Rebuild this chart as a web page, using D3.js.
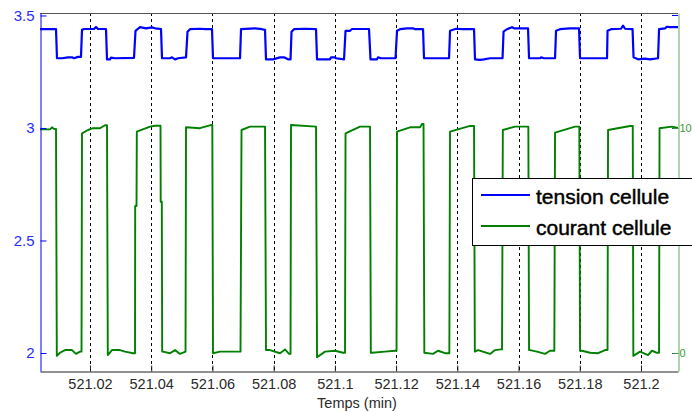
<!DOCTYPE html>
<html>
<head>
<meta charset="utf-8">
<script src="https://cdn.jsdelivr.net/npm/d3@7"></script>
<style>
  html, body { margin: 0; padding: 0; background: #fff; }
  svg { display: block; font-family: "Liberation Sans", Arial, sans-serif; }
</style>
</head>
<body>
<svg id="chart" width="692" height="412"></svg>
<script>
// ---- data (time in minutes) ----
const seriesNames = ["tension cellule", "courant cellule"];
const xTickValues = [521.02, 521.04, 521.06, 521.08, 521.1, 521.12, 521.14, 521.16, 521.18, 521.2];
const xTickLabels = ["521.02", "521.04", "521.06", "521.08", "521.1", "521.12", "521.14", "521.16", "521.18", "521.2"];
const yLeftTicks = [2, 2.5, 3, 3.5];
const yLeftLabels = ["2", "2.5", "3", "3.5"];
const yRightTicks = [0, 10];
const yRightLabels = ["0", "10"];
const xLabel = "Temps (min)";

const tensionT = [
  521.00367, 521.00694, 521.00890,
  521.00922, 521.01086, 521.01282, 521.01412, 521.01478, 521.01608, 521.01706,
  521.01739, 521.01804, 521.02131, 521.02196, 521.02262, 521.02523,
  521.02556, 521.02654, 521.02687, 521.02817, 521.03438,
  521.03487, 521.03634, 521.03830, 521.04026, 521.04124, 521.04320,
  521.04353, 521.04614, 521.04679, 521.04777, 521.04875, 521.05137,
  521.05186, 521.05267, 521.05594, 521.05757, 521.05986,
  521.06019, 521.06411, 521.06901,
  521.06934, 521.07391, 521.07620, 521.07718,
  521.07750, 521.07979, 521.08208, 521.08339, 521.08469, 521.08551,
  521.08584, 521.08665, 521.09025, 521.09384,
  521.09417, 521.09841, 521.09874, 521.10005, 521.10037, 521.10299,
  521.10348, 521.10495, 521.10560, 521.11115,
  521.11164, 521.11377, 521.11410, 521.11508, 521.11802, 521.11981,
  521.12030, 521.12128, 521.12357, 521.12553, 521.12618, 521.12880,
  521.12912, 521.13729,
  521.13762, 521.13958, 521.14154, 521.14546,
  521.14578, 521.14742, 521.14872, 521.15069, 521.15477,
  521.15510, 521.15624, 521.15787, 521.15853, 521.16310,
  521.16343, 521.16702, 521.16735, 521.16833, 521.17192,
  521.17225, 521.17355, 521.17682, 521.17976,
  521.18009, 521.18891,
  521.18907, 521.19022, 521.19348, 521.19414, 521.19479, 521.19724,
  521.19757, 521.19904, 521.20132, 521.20296, 521.20557,
  521.20590, 521.20786, 521.20851, 521.20949, 521.21209
];
const tensionV = [
  3.439, 3.439, 3.439,
  3.310, 3.310, 3.314, 3.314, 3.310, 3.316, 3.316,
  3.436, 3.440, 3.440, 3.449, 3.440, 3.440,
  3.305, 3.305, 3.313, 3.310, 3.312,
  3.432, 3.448, 3.443, 3.447, 3.443, 3.440,
  3.310, 3.310, 3.314, 3.305, 3.310, 3.314,
  3.428, 3.439, 3.441, 3.439, 3.439,
  3.310, 3.310, 3.310,
  3.439, 3.443, 3.439, 3.436,
  3.305, 3.305, 3.314, 3.314, 3.305, 3.305,
  3.428, 3.439, 3.441, 3.439,
  3.305, 3.305, 3.314, 3.314, 3.310, 3.305,
  3.432, 3.432, 3.440, 3.440,
  3.305, 3.305, 3.314, 3.310, 3.310, 3.310,
  3.432, 3.439, 3.443, 3.443, 3.439, 3.439,
  3.310, 3.310,
  3.432, 3.441, 3.439, 3.439,
  3.305, 3.303, 3.305, 3.310, 3.310,
  3.428, 3.439, 3.448, 3.443, 3.443,
  3.310, 3.310, 3.314, 3.310, 3.310,
  3.432, 3.439, 3.443, 3.443,
  3.310, 3.310,
  3.432, 3.439, 3.441, 3.455, 3.441, 3.439,
  3.314, 3.305, 3.308, 3.305, 3.310,
  3.439, 3.443, 3.450, 3.448, 3.448
];

const courantT = [
  521.00367, 521.00694, 521.00759, 521.00824, 521.00890,
  521.00916, 521.01020, 521.01184, 521.01412, 521.01543, 521.01674, 521.01723,
  521.01739, 521.01935, 521.02099, 521.02327, 521.02491, 521.02556,
  521.02582, 521.02719, 521.02981, 521.03144, 521.03405, 521.03471,
  521.03477, 521.03520, 521.03530, 521.03961, 521.04124, 521.04304,
  521.04310, 521.04346, 521.04359, 521.04385, 521.04614, 521.04777, 521.04941, 521.05121,
  521.05137, 521.05594, 521.05944, 521.05996,
  521.06019, 521.06248, 521.06574, 521.06917,
  521.06950, 521.07228, 521.07718,
  521.07750, 521.07881, 521.08208, 521.08371, 521.08502, 521.08551,
  521.08567, 521.09384,
  521.09417, 521.09678, 521.10005, 521.10266, 521.10331,
  521.10348, 521.10821, 521.11148,
  521.11174, 521.11213, 521.11638, 521.11965, 521.12014,
  521.12030, 521.12455, 521.12782, 521.12847, 521.12896,
  521.12922, 521.13206, 521.13370, 521.13598, 521.13739,
  521.13762, 521.14415, 521.14546,
  521.14572, 521.14677, 521.15069, 521.15232, 521.15428, 521.15461,
  521.15487, 521.15885, 521.16320,
  521.16343, 521.16375, 521.16604, 521.16865, 521.17029, 521.17169,
  521.17192, 521.17846, 521.17986,
  521.18009, 521.18074, 521.18336, 521.18597, 521.18826, 521.18907,
  521.18924, 521.19642, 521.19731,
  521.19750, 521.19969, 521.20230, 521.20361, 521.20524, 521.20590,
  521.20606, 521.21005, 521.21209
];
const courantV = [
  9.94, 9.94, 10.03, 9.96, 9.96,
  -0.13, 0.01, 0.13, 0.13, -0.04, 0.06, 0.06,
  9.76, 9.91, 9.99, 9.99, 10.12, 10.12,
  -0.09, 0.13, 0.13, 0.06, -0.01, -0.01,
  6.53, 6.53, 9.84, 10.06, 10.10, 10.10,
  6.72, 6.72, 0.06, 0.06, -0.01, 0.13, -0.04, 0.06,
  10.03, 9.99, 10.13, 10.13,
  -0.01, 0.06, 0.06, 0.06,
  9.91, 10.06, 10.06,
  0.13, 0.13, -0.01, 0.16, -0.04, -0.04,
  10.13, 10.06,
  -0.19, 0.06, 0.10, 0.01, 0.01,
  9.76, 10.06, 10.06,
  0.01, 0.01, 0.06, 0.10, 0.10,
  9.84, 10.03, 10.03, 10.18, 10.18,
  0.01, -0.04, 0.10, -0.01, -0.01,
  9.84, 10.09, 10.09,
  0.06, 0.13, -0.04, 0.13, 0.16, 0.16,
  9.91, 10.06, 10.06,
  0.13, 0.13, 0.06, -0.04, 0.10, 0.10,
  9.79, 10.06, 10.06,
  0.10, 0.10, 0.01, -0.01, 0.13, 0.13,
  9.91, 10.09, 10.09,
  -0.13, 0.06, -0.09, 0.10, 0.01, 0.01,
  9.99, 10.06, 10.00
];

// ---- layout ----
const svg = d3.select("#chart");
const L = 40, R = 678, T = 13, B = 371;
const x = d3.scaleLinear().domain([521.00367, 521.21209]).range([L, R]);
const yL = d3.scaleLinear().domain([1.92, 3.511]).range([B, T]);
const yR = d3.scaleLinear().domain([-0.8, 15.11]).range([B, T]);
const BLUE = "#0000ff", GREEN = "#008000";
const font = '"Liberation Sans", Arial, sans-serif';

// grid (dashed)
svg.append("g").selectAll("line").data(xTickValues).join("line")
  .attr("x1", d => Math.round(x(d)) + 0.5).attr("x2", d => Math.round(x(d)) + 0.5)
  .attr("y1", T).attr("y2", B)
  .attr("stroke", "#000").attr("stroke-width", 1).attr("stroke-dasharray", "3,3");

// lines
const tensionData = tensionT.map((t, i) => [t, tensionV[i]]);
const courantData = courantT.map((t, i) => [t, courantV[i]]);
svg.append("path").datum(tensionData)
  .attr("fill", "none").attr("stroke", BLUE).attr("stroke-width", 2.2).attr("stroke-linejoin", "round")
  .attr("d", d3.line().x(d => x(d[0])).y(d => yL(d[1])));
svg.append("path").datum(courantData)
  .attr("fill", "none").attr("stroke", GREEN).attr("stroke-width", 1.9).attr("stroke-linejoin", "round")
  .attr("d", d3.line().x(d => x(d[0])).y(d => yR(d[1])));

// top border
svg.append("line").attr("x1", L).attr("x2", R).attr("y1", T + 0.5).attr("y2", T + 0.5)
  .attr("stroke", "#555");

// bottom axis
const gx = svg.append("g").attr("transform", `translate(0,${B + 0.5})`)
  .call(d3.axisBottom(x).tickValues(xTickValues).tickFormat((d, i) => xTickLabels[i])
    .tickSize(-6).tickSizeOuter(0).tickPadding(7));
gx.select(".domain").attr("stroke", "#222");
gx.selectAll(".tick line").attr("stroke", "#222");
gx.selectAll(".tick text").attr("fill", "#2a2a2a").style("font-size", "14.5px").style("font-family", font);

// left axis
const gl = svg.append("g").attr("transform", `translate(${L + 0.5},0)`)
  .call(d3.axisLeft(yL).tickValues(yLeftTicks).tickFormat((d, i) => yLeftLabels[i])
    .tickSize(-6).tickSizeOuter(0).tickPadding(6));
gl.select(".domain").attr("stroke", BLUE);
gl.selectAll(".tick line").attr("stroke", BLUE);
gl.selectAll(".tick text").attr("fill", "#2a2aff").style("font-size", "15px").style("font-family", font);

// mirrored left ticks on right side
svg.append("g").selectAll("line").data(yLeftTicks).join("line")
  .attr("x1", R - 6).attr("x2", R)
  .attr("y1", d => Math.round(yL(d)) + 0.5).attr("y2", d => Math.round(yL(d)) + 0.5)
  .attr("stroke", BLUE);

// right axis
const gr = svg.append("g").attr("transform", `translate(${R + 0.5},0)`)
  .call(d3.axisRight(yR).tickValues(yRightTicks).tickFormat((d, i) => yRightLabels[i])
    .tickSize(-6).tickSizeOuter(0).tickPadding(1));
gr.select(".domain").attr("stroke", "#5fae5f");
gr.selectAll(".tick line").attr("stroke", "#3a9a3a");
gr.selectAll(".tick text").attr("fill", "#3a9a3a").style("font-size", "11px").style("font-family", font);

// x label
svg.append("text").attr("x", (L + R) / 2 - 2).attr("y", 408)
  .attr("text-anchor", "middle").attr("fill", "#2a2a2a")
  .style("font-size", "14.5px").style("font-family", font).text(xLabel);

// legend
const lg = svg.append("g");
lg.append("rect").attr("x", 472.5).attr("y", 178.5).attr("width", 240).attr("height", 67)
  .attr("fill", "#fff").attr("stroke", "#000");
const legendColors = [BLUE, GREEN];
const legendY = [195, 226];
seriesNames.forEach((name, i) => {
  lg.append("line").attr("x1", 481).attr("x2", 530).attr("y1", legendY[i]).attr("y2", legendY[i])
    .attr("stroke", legendColors[i]).attr("stroke-width", 2.2);
  lg.append("text").attr("x", 536).attr("y", legendY[i] + 8.5)
    .attr("fill", "#000").attr("stroke", "#000").attr("stroke-width", 0.45)
    .style("font-size", "21px").style("font-family", font).text(name);
});
</script>
</body>
</html>
